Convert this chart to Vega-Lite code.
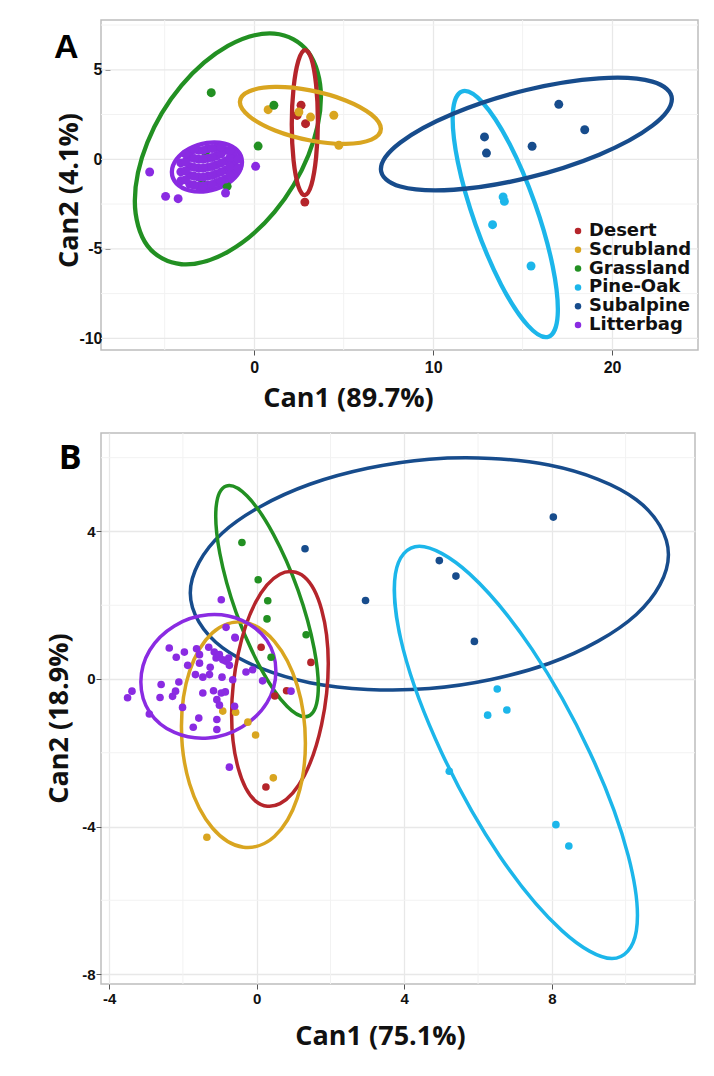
{
"$schema":"https://vega.github.io/schema/vega-lite/v6.json",
"padding":{"left":44,"top":18,"right":5,"bottom":5},
"config":{
"view":{"stroke":"#bdbdbd","strokeWidth":1.5},
"axis":{"domain":false,"grid":true,"gridColor":"#e8e8e8","gridWidth":1.3,"tickColor":"#555555","tickSize":5,"labelFont":"Liberation Sans","labelFontWeight":"bold","labelColor":"#111111","titleFont":"Open Sans","titleFontWeight":"bold","titleColor":"#111111","titleFontSize":27,"labelExpr":"''+datum.value"}
},
"datasets":{
"minAx":[{"v":-5},{"v":5},{"v":15}],
"minAy":[{"v":-7.5},{"v":-2.5},{"v":2.5},{"v":7.5}],
"majAy":[{"v":-10},{"v":-5},{"v":0},{"v":5}],
"minBx":[{"v":-2},{"v":2},{"v":6},{"v":10}],
"minBy":[{"v":-6},{"v":-2},{"v":2},{"v":6}],
"ellA":[
{"g":"Grassland","i":0,"x":3.73,"y":3.49},{"g":"Grassland","i":1,"x":3.03,"y":5.98},{"g":"Grassland","i":2,"x":1.13,"y":7.02},{"g":"Grassland","i":3,"x":-1.47,"y":6.33},{"g":"Grassland","i":4,"x":-4.07,"y":4.11},{"g":"Grassland","i":5,"x":-5.97,"y":0.94},{"g":"Grassland","i":6,"x":-6.67,"y":-2.33},{"g":"Grassland","i":7,"x":-5.97,"y":-4.82},{"g":"Grassland","i":8,"x":-4.07,"y":-5.86},{"g":"Grassland","i":9,"x":-1.47,"y":-5.17},{"g":"Grassland","i":10,"x":1.13,"y":-2.95},{"g":"Grassland","i":11,"x":3.03,"y":0.23},
{"g":"Desert","i":0,"x":3.56,"y":2.15},{"g":"Desert","i":1,"x":3.46,"y":4.16},{"g":"Desert","i":2,"x":3.2,"y":5.61},{"g":"Desert","i":3,"x":2.83,"y":6.1},{"g":"Desert","i":4,"x":2.47,"y":5.51},{"g":"Desert","i":5,"x":2.2,"y":3.99},{"g":"Desert","i":6,"x":2.1,"y":1.95},{"g":"Desert","i":7,"x":2.2,"y":-0.06},{"g":"Desert","i":8,"x":2.47,"y":-1.51},{"g":"Desert","i":9,"x":2.83,"y":-2.0},{"g":"Desert","i":10,"x":3.2,"y":-1.41},{"g":"Desert","i":11,"x":3.46,"y":0.11},
{"g":"Scrubland","i":0,"x":7.08,"y":1.7},{"g":"Scrubland","i":1,"x":6.55,"y":2.5},{"g":"Scrubland","i":2,"x":5.11,"y":3.29},{"g":"Scrubland","i":3,"x":3.14,"y":3.85},{"g":"Scrubland","i":4,"x":1.17,"y":4.04},{"g":"Scrubland","i":5,"x":-0.27,"y":3.8},{"g":"Scrubland","i":6,"x":-0.8,"y":3.2},{"g":"Scrubland","i":7,"x":-0.27,"y":2.4},{"g":"Scrubland","i":8,"x":1.17,"y":1.61},{"g":"Scrubland","i":9,"x":3.14,"y":1.05},{"g":"Scrubland","i":10,"x":5.11,"y":0.86},{"g":"Scrubland","i":11,"x":6.55,"y":1.1},
{"g":"Pine-Oak","i":0,"x":16.45,"y":-9.91},{"g":"Pine-Oak","i":1,"x":16.96,"y":-8.7},{"g":"Pine-Oak","i":2,"x":16.68,"y":-5.97},{"g":"Pine-Oak","i":3,"x":15.69,"y":-2.47},{"g":"Pine-Oak","i":4,"x":14.26,"y":0.88},{"g":"Pine-Oak","i":5,"x":12.76,"y":3.17},{"g":"Pine-Oak","i":6,"x":11.61,"y":3.79},{"g":"Pine-Oak","i":7,"x":11.1,"y":2.58},{"g":"Pine-Oak","i":8,"x":11.38,"y":-0.15},{"g":"Pine-Oak","i":9,"x":12.37,"y":-3.65},{"g":"Pine-Oak","i":10,"x":13.8,"y":-7.0},{"g":"Pine-Oak","i":11,"x":15.3,"y":-9.29},
{"g":"Subalpine","i":0,"x":23.34,"y":3.37},{"g":"Subalpine","i":1,"x":22.25,"y":4.34},{"g":"Subalpine","i":2,"x":19.28,"y":4.52},{"g":"Subalpine","i":3,"x":15.21,"y":3.87},{"g":"Subalpine","i":4,"x":11.15,"y":2.56},{"g":"Subalpine","i":5,"x":8.17,"y":0.94},{"g":"Subalpine","i":6,"x":7.08,"y":-0.55},{"g":"Subalpine","i":7,"x":8.17,"y":-1.52},{"g":"Subalpine","i":8,"x":11.15,"y":-1.7},{"g":"Subalpine","i":9,"x":15.21,"y":-1.05},{"g":"Subalpine","i":10,"x":19.28,"y":0.26},{"g":"Subalpine","i":11,"x":22.25,"y":1.88},
{"g":"Litterbag","i":0,"x":-0.68,"y":-0.15},{"g":"Litterbag","i":1,"x":-0.94,"y":0.49},{"g":"Litterbag","i":2,"x":-1.66,"y":0.88},{"g":"Litterbag","i":3,"x":-2.64,"y":0.92},{"g":"Litterbag","i":4,"x":-3.62,"y":0.6},{"g":"Litterbag","i":5,"x":-4.34,"y":0.0},{"g":"Litterbag","i":6,"x":-4.6,"y":-0.71},{"g":"Litterbag","i":7,"x":-4.34,"y":-1.35},{"g":"Litterbag","i":8,"x":-3.62,"y":-1.74},{"g":"Litterbag","i":9,"x":-2.64,"y":-1.78},{"g":"Litterbag","i":10,"x":-1.66,"y":-1.46},{"g":"Litterbag","i":11,"x":-0.94,"y":-0.86}
],
"ptsA":[
{"g":"Desert","x":2.62,"y":3.02},{"g":"Desert","x":2.4,"y":2.45},{"g":"Desert","x":2.87,"y":1.99},{"g":"Desert","x":2.83,"y":-2.39},
{"g":"Scrubland","x":0.78,"y":2.77},{"g":"Scrubland","x":2.5,"y":2.64},{"g":"Scrubland","x":3.15,"y":2.36},{"g":"Scrubland","x":4.45,"y":2.46},{"g":"Scrubland","x":4.73,"y":0.78},
{"g":"Grassland","x":-2.4,"y":3.72},{"g":"Grassland","x":1.1,"y":3.02},{"g":"Grassland","x":0.22,"y":0.74},{"g":"Grassland","x":-2.72,"y":0.41},{"g":"Grassland","x":-2.91,"y":-1.36},{"g":"Grassland","x":-1.51,"y":-1.51},
{"g":"Pine-Oak","x":13.91,"y":-2.1},{"g":"Pine-Oak","x":13.98,"y":-2.35},{"g":"Pine-Oak","x":13.32,"y":-3.65},{"g":"Pine-Oak","x":15.47,"y":-5.96},
{"g":"Subalpine","x":17.02,"y":3.07},{"g":"Subalpine","x":18.47,"y":1.65},{"g":"Subalpine","x":12.87,"y":1.25},{"g":"Subalpine","x":12.98,"y":0.35},{"g":"Subalpine","x":15.53,"y":0.73},
{"g":"Litterbag","x":-5.84,"y":-0.71},{"g":"Litterbag","x":-4.95,"y":-2.07},{"g":"Litterbag","x":-4.25,"y":-2.2},{"g":"Litterbag","x":-1.6,"y":-1.88},{"g":"Litterbag","x":0.08,"y":-0.39},
{"g":"Litterbag","x":-4.1,"y":-1.2},{"g":"Litterbag","x":-4.1,"y":-0.7},{"g":"Litterbag","x":-4.1,"y":-0.2},
{"g":"Litterbag","x":-3.6,"y":-1.4},{"g":"Litterbag","x":-3.6,"y":-0.9},{"g":"Litterbag","x":-3.6,"y":-0.4},{"g":"Litterbag","x":-3.6,"y":0.1},{"g":"Litterbag","x":-3.6,"y":0.4},
{"g":"Litterbag","x":-3.1,"y":-1.5},{"g":"Litterbag","x":-3.1,"y":-1.0},{"g":"Litterbag","x":-3.1,"y":-0.5},{"g":"Litterbag","x":-3.1,"y":0.0},{"g":"Litterbag","x":-3.1,"y":0.5},
{"g":"Litterbag","x":-2.6,"y":-1.45},{"g":"Litterbag","x":-2.6,"y":-0.95},{"g":"Litterbag","x":-2.6,"y":-0.45},{"g":"Litterbag","x":-2.6,"y":0.05},{"g":"Litterbag","x":-2.6,"y":0.6},
{"g":"Litterbag","x":-2.1,"y":-1.3},{"g":"Litterbag","x":-2.1,"y":-0.8},{"g":"Litterbag","x":-2.1,"y":-0.3},{"g":"Litterbag","x":-2.1,"y":0.2},{"g":"Litterbag","x":-2.1,"y":0.65},
{"g":"Litterbag","x":-1.6,"y":-1.1},{"g":"Litterbag","x":-1.6,"y":-0.6},{"g":"Litterbag","x":-1.6,"y":-0.1},{"g":"Litterbag","x":-1.6,"y":0.5},
{"g":"Litterbag","x":-1.15,"y":-0.75},{"g":"Litterbag","x":-1.15,"y":-0.25},{"g":"Litterbag","x":-1.15,"y":0.3},
{"g":"Litterbag","x":-3.85,"y":-1.15},{"g":"Litterbag","x":-3.85,"y":-0.65},{"g":"Litterbag","x":-3.85,"y":-0.15},{"g":"Litterbag","x":-3.85,"y":0.3},
{"g":"Litterbag","x":-3.35,"y":-1.45},{"g":"Litterbag","x":-3.35,"y":-0.95},{"g":"Litterbag","x":-3.35,"y":-0.45},{"g":"Litterbag","x":-3.35,"y":0.05},{"g":"Litterbag","x":-3.35,"y":0.55},
{"g":"Litterbag","x":-2.85,"y":-1.5},{"g":"Litterbag","x":-2.85,"y":-1.0},{"g":"Litterbag","x":-2.85,"y":-0.5},{"g":"Litterbag","x":-2.85,"y":0.0},{"g":"Litterbag","x":-2.85,"y":0.5},
{"g":"Litterbag","x":-2.35,"y":-1.4},{"g":"Litterbag","x":-2.35,"y":-0.9},{"g":"Litterbag","x":-2.35,"y":-0.4},{"g":"Litterbag","x":-2.35,"y":0.1},{"g":"Litterbag","x":-2.35,"y":0.6},
{"g":"Litterbag","x":-1.85,"y":-1.2},{"g":"Litterbag","x":-1.85,"y":-0.7},{"g":"Litterbag","x":-1.85,"y":-0.2},{"g":"Litterbag","x":-1.85,"y":0.3},{"g":"Litterbag","x":-1.85,"y":0.7},
{"g":"Litterbag","x":-1.35,"y":-0.9},{"g":"Litterbag","x":-1.35,"y":-0.4},{"g":"Litterbag","x":-1.35,"y":0.1},{"g":"Litterbag","x":-1.35,"y":0.5},
{"g":"Litterbag","x":-0.9,"y":-0.5},{"g":"Litterbag","x":-0.9,"y":0.0}
],
"ellB":[
{"g":"Subalpine","i":0,"x":11.16,"y":3.37},{"g":"Subalpine","i":1,"x":10.29,"y":4.86},{"g":"Subalpine","i":2,"x":7.92,"y":5.8},{"g":"Subalpine","i":3,"x":4.68,"y":5.96},{"g":"Subalpine","i":4,"x":1.44,"y":5.28},{"g":"Subalpine","i":5,"x":-0.93,"y":3.96},{"g":"Subalpine","i":6,"x":-1.8,"y":2.33},{"g":"Subalpine","i":7,"x":-0.93,"y":0.85},{"g":"Subalpine","i":8,"x":1.44,"y":-0.1},{"g":"Subalpine","i":9,"x":4.68,"y":-0.26},{"g":"Subalpine","i":10,"x":7.92,"y":0.42},{"g":"Subalpine","i":11,"x":10.29,"y":1.75},
{"g":"Grassland","i":0,"x":1.39,"y":-1.01},{"g":"Grassland","i":1,"x":1.66,"y":-0.44},{"g":"Grassland","i":2,"x":1.56,"y":0.81},{"g":"Grassland","i":3,"x":1.12,"y":2.41},{"g":"Grassland","i":4,"x":0.45,"y":3.93},{"g":"Grassland","i":5,"x":-0.26,"y":4.96},{"g":"Grassland","i":6,"x":-0.83,"y":5.23},{"g":"Grassland","i":7,"x":-1.1,"y":4.66},{"g":"Grassland","i":8,"x":-1.0,"y":3.41},{"g":"Grassland","i":9,"x":-0.56,"y":1.81},{"g":"Grassland","i":10,"x":0.11,"y":0.29},{"g":"Grassland","i":11,"x":0.82,"y":-0.74},
{"g":"Desert","i":0,"x":1.94,"y":0.42},{"g":"Desert","i":1,"x":1.76,"y":1.88},{"g":"Desert","i":2,"x":1.29,"y":2.77},{"g":"Desert","i":3,"x":0.63,"y":2.84},{"g":"Desert","i":4,"x":-0.03,"y":2.08},{"g":"Desert","i":5,"x":-0.5,"y":0.69},{"g":"Desert","i":6,"x":-0.68,"y":-0.96},{"g":"Desert","i":7,"x":-0.5,"y":-2.42},{"g":"Desert","i":8,"x":-0.03,"y":-3.31},{"g":"Desert","i":9,"x":0.63,"y":-3.38},{"g":"Desert","i":10,"x":1.29,"y":-2.62},{"g":"Desert","i":11,"x":1.76,"y":-1.23},
{"g":"Scrubland","i":0,"x":1.32,"y":-1.74},{"g":"Scrubland","i":1,"x":1.1,"y":-0.18},{"g":"Scrubland","i":2,"x":0.48,"y":1.02},{"g":"Scrubland","i":3,"x":-0.36,"y":1.54},{"g":"Scrubland","i":4,"x":-1.2,"y":1.25},{"g":"Scrubland","i":5,"x":-1.82,"y":0.21},{"g":"Scrubland","i":6,"x":-2.04,"y":-1.28},{"g":"Scrubland","i":7,"x":-1.82,"y":-2.84},{"g":"Scrubland","i":8,"x":-1.2,"y":-4.04},{"g":"Scrubland","i":9,"x":-0.36,"y":-4.56},{"g":"Scrubland","i":10,"x":0.48,"y":-4.27},{"g":"Scrubland","i":11,"x":1.1,"y":-3.23},
{"g":"Litterbag","i":0,"x":0.52,"y":0.22},{"g":"Litterbag","i":1,"x":0.28,"y":1.04},{"g":"Litterbag","i":2,"x":-0.4,"y":1.59},{"g":"Litterbag","i":3,"x":-1.31,"y":1.74},{"g":"Litterbag","i":4,"x":-2.23,"y":1.44},{"g":"Litterbag","i":5,"x":-2.9,"y":0.78},{"g":"Litterbag","i":6,"x":-3.14,"y":-0.08},{"g":"Litterbag","i":7,"x":-2.9,"y":-0.9},{"g":"Litterbag","i":8,"x":-2.23,"y":-1.45},{"g":"Litterbag","i":9,"x":-1.31,"y":-1.6},{"g":"Litterbag","i":10,"x":-0.4,"y":-1.3},{"g":"Litterbag","i":11,"x":0.28,"y":-0.64},
{"g":"Pine-Oak","i":0,"x":4.41,"y":3.6},{"g":"Pine-Oak","i":1,"x":5.77,"y":2.85},{"g":"Pine-Oak","i":2,"x":7.46,"y":0.81},{"g":"Pine-Oak","i":3,"x":9.03,"y":-1.99},{"g":"Pine-Oak","i":4,"x":10.07,"y":-4.79},{"g":"Pine-Oak","i":5,"x":10.29,"y":-6.83},{"g":"Pine-Oak","i":6,"x":9.63,"y":-7.58},{"g":"Pine-Oak","i":7,"x":8.28,"y":-6.83},{"g":"Pine-Oak","i":8,"x":6.58,"y":-4.79},{"g":"Pine-Oak","i":9,"x":5.01,"y":-1.99},{"g":"Pine-Oak","i":10,"x":3.97,"y":0.81},{"g":"Pine-Oak","i":11,"x":3.76,"y":2.85}
],
"ptsB":[
{"g":"Desert","x":0.12,"y":0.86},{"g":"Desert","x":1.47,"y":0.45},{"g":"Desert","x":0.81,"y":-0.32},{"g":"Desert","x":0.49,"y":-0.46},{"g":"Desert","x":0.25,"y":-2.93},
{"g":"Scrubland","x":-0.92,"y":-0.87},{"g":"Scrubland","x":-0.57,"y":-0.9},{"g":"Scrubland","x":-0.24,"y":-1.17},{"g":"Scrubland","x":-0.03,"y":-1.52},{"g":"Scrubland","x":0.45,"y":-2.68},{"g":"Scrubland","x":-1.35,"y":-4.29},
{"g":"Grassland","x":-0.4,"y":3.7},{"g":"Grassland","x":0.04,"y":2.69},{"g":"Grassland","x":0.3,"y":2.12},{"g":"Grassland","x":0.28,"y":1.63},{"g":"Grassland","x":1.34,"y":1.2},{"g":"Grassland","x":0.39,"y":0.59},
{"g":"Pine-Oak","x":6.52,"y":-0.27},{"g":"Pine-Oak","x":6.78,"y":-0.84},{"g":"Pine-Oak","x":6.26,"y":-0.98},{"g":"Pine-Oak","x":5.22,"y":-2.5},{"g":"Pine-Oak","x":8.11,"y":-3.95},{"g":"Pine-Oak","x":8.46,"y":-4.53},
{"g":"Subalpine","x":8.04,"y":4.39},{"g":"Subalpine","x":4.95,"y":3.21},{"g":"Subalpine","x":5.4,"y":2.79},{"g":"Subalpine","x":2.95,"y":2.13},{"g":"Subalpine","x":5.9,"y":1.02},{"g":"Subalpine","x":1.31,"y":3.53},
{"g":"Litterbag","x":-2.37,"y":0.84},{"g":"Litterbag","x":-2.18,"y":0.59},{"g":"Litterbag","x":-1.96,"y":0.73},{"g":"Litterbag","x":-1.63,"y":0.82},{"g":"Litterbag","x":-1.55,"y":0.66},{"g":"Litterbag","x":-1.3,"y":0.86},{"g":"Litterbag","x":-1.15,"y":0.73},{"g":"Litterbag","x":-1.1,"y":0.57},{"g":"Litterbag","x":-1.01,"y":0.66},{"g":"Litterbag","x":-0.92,"y":0.52},{"g":"Litterbag","x":-0.83,"y":0.48},{"g":"Litterbag","x":-0.76,"y":0.57},{"g":"Litterbag","x":-0.58,"y":1.11},{"g":"Litterbag","x":-0.74,"y":0.37},{"g":"Litterbag","x":-1.87,"y":0.37},{"g":"Litterbag","x":-1.55,"y":0.43},{"g":"Litterbag","x":-1.26,"y":0.32},{"g":"Litterbag","x":-1.66,"y":0.12},{"g":"Litterbag","x":-1.46,"y":0.05},{"g":"Litterbag","x":-0.29,"y":0.19},{"g":"Litterbag","x":-0.11,"y":0.25},{"g":"Litterbag","x":-0.65,"y":-0.02},{"g":"Litterbag","x":0.16,"y":-0.05},{"g":"Litterbag","x":-2.11,"y":-0.08},{"g":"Litterbag","x":-2.59,"y":-0.15},{"g":"Litterbag","x":-3.38,"y":-0.33},{"g":"Litterbag","x":-3.5,"y":-0.51},{"g":"Litterbag","x":-2.62,"y":-0.5},{"g":"Litterbag","x":-2.28,"y":-0.47},{"g":"Litterbag","x":-2.2,"y":-0.33},{"g":"Litterbag","x":-1.46,"y":-0.38},{"g":"Litterbag","x":-1.17,"y":-0.32},{"g":"Litterbag","x":-1.08,"y":-0.56},{"g":"Litterbag","x":-0.96,"y":-0.38},{"g":"Litterbag","x":-0.85,"y":-0.35},{"g":"Litterbag","x":-1.01,"y":-0.71},{"g":"Litterbag","x":-2.01,"y":-0.77},{"g":"Litterbag","x":-2.91,"y":-0.95},{"g":"Litterbag","x":-1.57,"y":-1.06},{"g":"Litterbag","x":-1.72,"y":-1.31},{"g":"Litterbag","x":-1.08,"y":-1.1},{"g":"Litterbag","x":-1.08,"y":-1.37},{"g":"Litterbag","x":-0.6,"y":-0.74},{"g":"Litterbag","x":0.93,"y":-0.33},{"g":"Litterbag","x":-0.74,"y":-2.39},{"g":"Litterbag","x":-0.96,"y":2.15},{"g":"Litterbag","x":-0.83,"y":1.4},{"g":"Litterbag","x":-0.59,"y":1.13},{"g":"Litterbag","x":-0.94,"y":0.05},{"g":"Litterbag","x":-1.28,"y":0.12}
]
},
"concat":[
{
"width":597,"height":330,
"title":{"text":"A","anchor":"start","frame":"bounds","orient":"top","offset":-45,"dx":-2,"font":"Liberation Sans","fontSize":34,"fontWeight":"bold","color":"#000000"},
"layer":[
{"data":{"name":"minAx"},"mark":{"type":"rule","color":"#f2f2f2","strokeWidth":1},"encoding":{"x":{"field":"v","type":"quantitative","scale":{"domain":[-8.56,24.8],"nice":false,"zero":false},"axis":{"title":"Can1 (89.7%)","values":[0,10,20],"labelFontSize":16,"labelPadding":4,"titlePadding":10,"titleX":247}}}},
{"data":{"name":"minAy"},"mark":{"type":"rule","color":"#f2f2f2","strokeWidth":1},"encoding":{"y":{"field":"v","type":"quantitative","scale":{"domain":[-10.65,7.78],"nice":false,"zero":false},"axis":{"title":"Can2 (4.1%)","values":[-10,-5,0,5],"grid":false,"offset":-9,"labelFontSize":16,"labelPadding":3,"titlePadding":-5,"titleY":170}}}},
{"data":{"name":"majAy"},"mark":{"type":"rule","color":"#e8e8e8","strokeWidth":1.3},"encoding":{"y":{"field":"v","type":"quantitative","scale":{"domain":[-10.65,7.78],"nice":false,"zero":false},"axis":{"title":"Can2 (4.1%)","values":[-10,-5,0,5],"grid":false,"offset":-9,"labelFontSize":16,"labelPadding":3,"titlePadding":-5,"titleY":170}}}},
{"data":{"name":"ellA"},"mark":{"type":"line","interpolate":"cardinal-closed","strokeWidth":4.3,"clip":true},
"encoding":{
"x":{"field":"x","type":"quantitative","scale":{"domain":[-8.56,24.8],"nice":false,"zero":false},"axis":{"title":"Can1 (89.7%)","values":[0,10,20],"labelFontSize":16,"labelPadding":4,"titlePadding":10,"titleX":247}},
"y":{"field":"y","type":"quantitative","scale":{"domain":[-10.65,7.78],"nice":false,"zero":false},"axis":{"title":"Can2 (4.1%)","values":[-10,-5,0,5],"grid":false,"offset":-9,"labelFontSize":16,"labelPadding":3,"titlePadding":-5,"titleY":170}},
"stroke":{"field":"g","type":"nominal","scale":{"domain":["Desert","Scrubland","Grassland","Pine-Oak","Subalpine","Litterbag"],"range":["#B5252B","#D9A520","#229022","#1CB6EA","#174C8C","#8A2BE2"]},
"legend":{"orient":"none","legendX":468,"legendY":202,"title":null,"padding":0,"labelFont":"DejaVu Sans","labelFontWeight":"bold","labelFontSize":18,"labelColor":"#111111","symbolType":"circle","symbolSize":42,"symbolStrokeWidth":0,"rowPadding":0.8,"labelOffset":2}},
"order":{"field":"i","type":"quantitative"}}},
{"data":{"name":"ptsA"},"mark":{"type":"circle","size":80,"opacity":1},
"encoding":{
"x":{"field":"x","type":"quantitative","scale":{"domain":[-8.56,24.8],"nice":false,"zero":false},"axis":{"title":"Can1 (89.7%)","values":[0,10,20],"labelFontSize":16,"labelPadding":4,"titlePadding":10,"titleX":247}},
"y":{"field":"y","type":"quantitative","scale":{"domain":[-10.65,7.78],"nice":false,"zero":false},"axis":{"title":"Can2 (4.1%)","values":[-10,-5,0,5],"grid":false,"offset":-9,"labelFontSize":16,"labelPadding":3,"titlePadding":-5,"titleY":170}},
"color":{"field":"g","type":"nominal","scale":{"domain":["Desert","Scrubland","Grassland","Pine-Oak","Subalpine","Litterbag"],"range":["#B5252B","#D9A520","#229022","#1CB6EA","#174C8C","#8A2BE2"]},
"legend":{"orient":"none","legendX":468,"legendY":202,"title":null,"padding":0,"labelFont":"DejaVu Sans","labelFontWeight":"bold","labelFontSize":18,"labelColor":"#111111","symbolType":"circle","symbolSize":42,"symbolStrokeWidth":0,"rowPadding":0.8,"labelOffset":2}}}}
]
},
{
"width":594,"height":551,
"title":{"text":"B","anchor":"start","frame":"bounds","orient":"top","offset":-43,"dx":13,"font":"Open Sans","fontSize":34,"fontWeight":"bold","color":"#000000"},
"layer":[
{"data":{"name":"minBx"},"mark":{"type":"rule","color":"#f2f2f2","strokeWidth":1},"encoding":{"x":{"field":"v","type":"quantitative","scale":{"domain":[-4.22,11.88],"nice":false,"zero":false},"axis":{"title":"Can1 (75.1%)","values":[-4,0,4,8],"labelFontSize":15,"labelPadding":2,"titlePadding":17,"titleX":279}}}},
{"data":{"name":"minBy"},"mark":{"type":"rule","color":"#f2f2f2","strokeWidth":1},"encoding":{"y":{"field":"v","type":"quantitative","scale":{"domain":[-8.27,6.67],"nice":false,"zero":false},"axis":{"title":"Can2 (18.9%)","values":[-8,-4,0,4],"labelFontSize":15,"labelPadding":1,"titlePadding":8,"titleY":285}}}},
{"data":{"name":"ellB"},"mark":{"type":"line","interpolate":"cardinal-closed","strokeWidth":3.5,"clip":true},
"encoding":{
"x":{"field":"x","type":"quantitative","scale":{"domain":[-4.22,11.88],"nice":false,"zero":false},"axis":{"title":"Can1 (75.1%)","values":[-4,0,4,8],"labelFontSize":15,"labelPadding":2,"titlePadding":17,"titleX":279}},
"y":{"field":"y","type":"quantitative","scale":{"domain":[-8.27,6.67],"nice":false,"zero":false},"axis":{"title":"Can2 (18.9%)","values":[-8,-4,0,4],"labelFontSize":15,"labelPadding":1,"titlePadding":8,"titleY":285}},
"stroke":{"field":"g","type":"nominal","scale":{"domain":["Desert","Scrubland","Grassland","Pine-Oak","Subalpine","Litterbag"],"range":["#B5252B","#D9A520","#229022","#1CB6EA","#174C8C","#8A2BE2"]},"legend":null},
"order":{"field":"i","type":"quantitative"}}},
{"data":{"name":"ptsB"},"mark":{"type":"circle","size":58,"opacity":1},
"encoding":{
"x":{"field":"x","type":"quantitative","scale":{"domain":[-4.22,11.88],"nice":false,"zero":false},"axis":{"title":"Can1 (75.1%)","values":[-4,0,4,8],"labelFontSize":15,"labelPadding":2,"titlePadding":17,"titleX":279}},
"y":{"field":"y","type":"quantitative","scale":{"domain":[-8.27,6.67],"nice":false,"zero":false},"axis":{"title":"Can2 (18.9%)","values":[-8,-4,0,4],"labelFontSize":15,"labelPadding":1,"titlePadding":8,"titleY":285}},
"color":{"field":"g","type":"nominal","scale":{"domain":["Desert","Scrubland","Grassland","Pine-Oak","Subalpine","Litterbag"],"range":["#B5252B","#D9A520","#229022","#1CB6EA","#174C8C","#8A2BE2"]},"legend":null}}}
]
}
],
"columns":1,
"spacing":19,
"resolve":{"scale":{"color":"independent","stroke":"independent"},"legend":{"color":"independent","stroke":"independent"}}
}
